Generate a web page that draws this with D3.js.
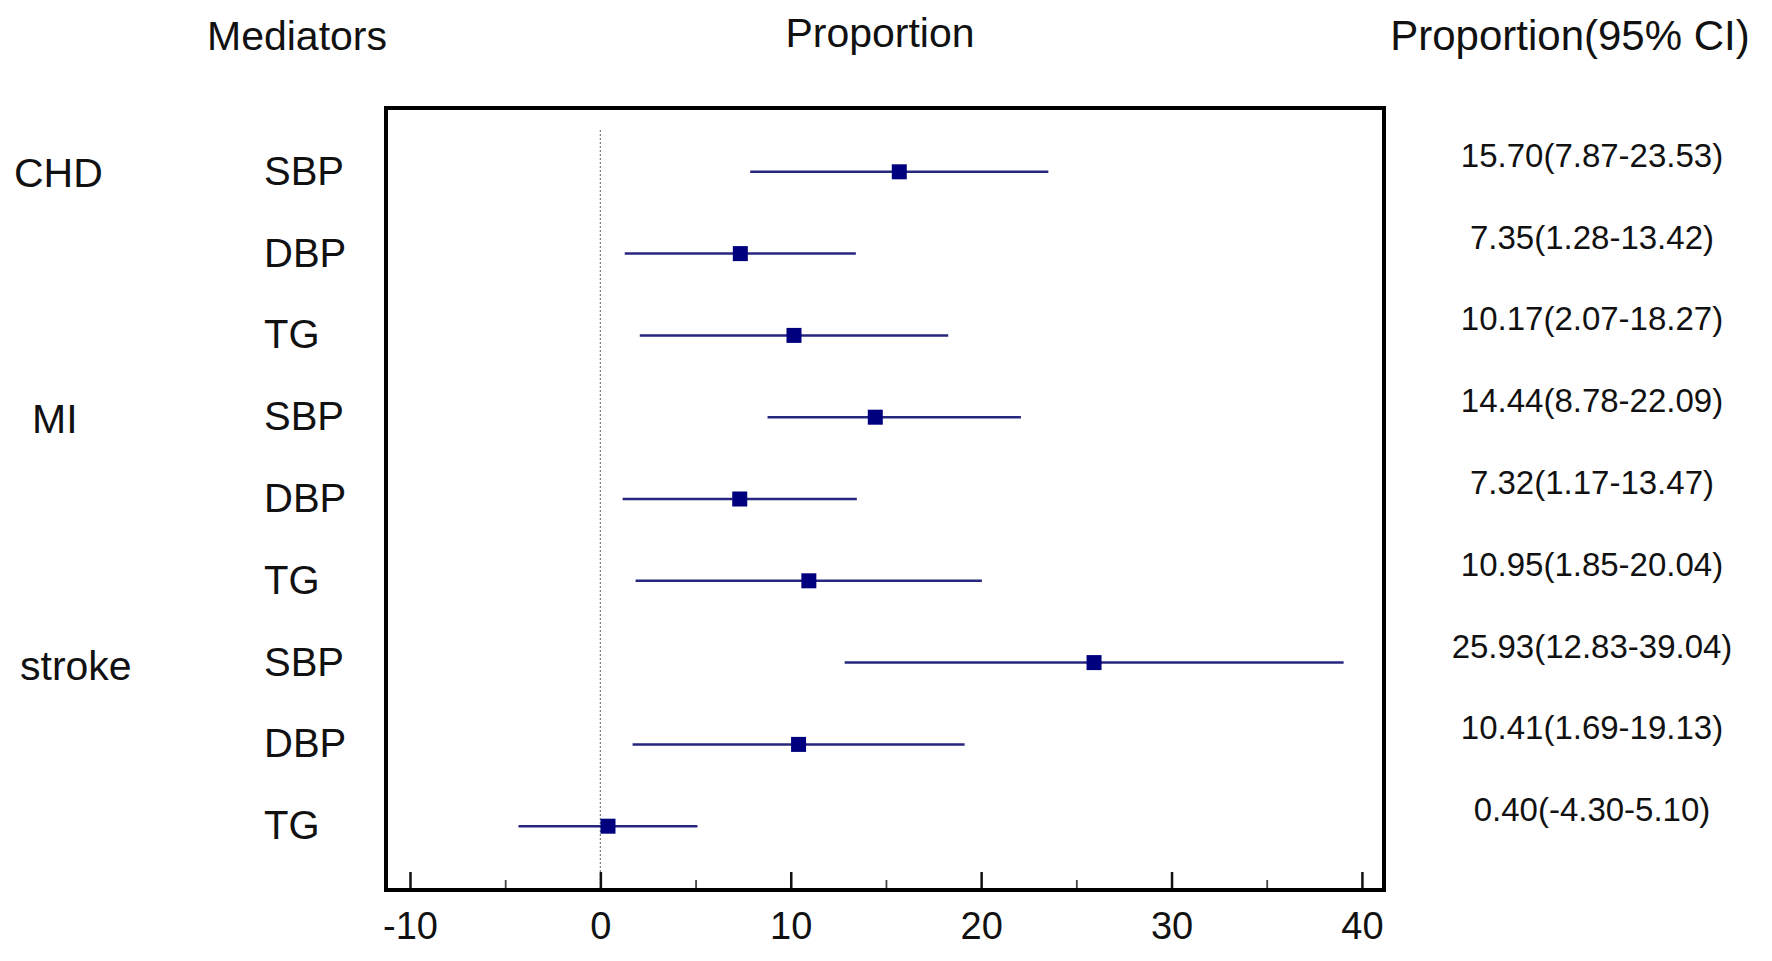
<!DOCTYPE html>
<html>
<head>
<meta charset="utf-8">
<script src="https://cdn.jsdelivr.net/npm/d3@7"></script>
<style>
  html, body { margin: 0; padding: 0; background: #fff; }
  svg text { font-family: "Liberation Sans", Arial, sans-serif; fill: #111; }
</style>
</head>
<body>
<svg id="chart" width="1772" height="961"></svg>
<script>
// ---- data ----
const outcomes = ["CHD", "MI", "stroke"];
const mediators = ["SBP", "DBP", "TG"];
const estimates = [15.70, 7.35, 10.17, 14.44, 7.32, 10.95, 25.93, 10.41, 0.40];
const lowerCI   = [7.87, 1.28, 2.07, 8.78, 1.17, 1.85, 12.83, 1.69, -4.30];
const upperCI   = [23.53, 13.42, 18.27, 22.09, 13.47, 20.04, 39.04, 19.13, 5.10];
const majorTicks = [-10, 0, 10, 20, 30, 40];
const minorTicks = [-5, 5, 15, 25, 35];
const headers = ["Mediators", "Proportion", "Proportion(95% CI)"];

// ---- build rows ----
const rows = [];
outcomes.forEach((o, i) => {
  mediators.forEach((m, j) => {
    const k = i * mediators.length + j;
    rows.push({ id: k, outcome: o, mediator: m, est: estimates[k], lo: lowerCI[k], hi: upperCI[k] });
  });
});

const loc = d3.formatLocale({ decimal: ".", thousands: ",", grouping: [3], currency: ["", ""], minus: "-" });
const f2 = loc.format(".2f");
const f0 = loc.format("d");

// ---- layout ----
const frame = { left: 386, right: 1384, top: 108, bottom: 890 };
const svg = d3.select("#chart");

const x = d3.scaleLinear().domain([-11.26, 41.16]).range([frame.left, frame.right]);
const y = d3.scalePoint().domain(rows.map(d => d.id)).range([frame.top, frame.bottom]).padding(0.78);

// headers
const headerX = [297, 880, 1570];
const headerY = [50, 47, 50];
const headerFs = [41, 41, 42];
svg.selectAll("text.header").data(headers).join("text")
  .attr("class", "header")
  .attr("x", (d, i) => headerX[i]).attr("y", (d, i) => headerY[i])
  .attr("text-anchor", "middle")
  .style("font-size", (d, i) => headerFs[i] + "px")
  .text(d => d);

// zero reference line
svg.append("line")
  .attr("x1", x(0)).attr("x2", x(0))
  .attr("y1", 130).attr("y2", frame.bottom)
  .attr("stroke", "#777").attr("stroke-width", 1.2)
  .attr("stroke-dasharray", "2,2");

// axis ticks (inward)
const axisMajor = d3.axisBottom(x).tickValues(majorTicks).tickSize(-18).tickPadding(22).tickFormat(f0);
const gMaj = svg.append("g").attr("transform", `translate(0,${frame.bottom})`).call(axisMajor);
gMaj.select(".domain").remove();
gMaj.selectAll(".tick line").attr("stroke", "#111").attr("stroke-width", 2.5);
gMaj.selectAll(".tick text").style("font-size", "38px").attr("fill", "#111")
  .attr("font-family", "Liberation Sans, Arial, sans-serif");

const axisMinor = d3.axisBottom(x).tickValues(minorTicks).tickSize(-10).tickFormat("");
const gMin = svg.append("g").attr("transform", `translate(0,${frame.bottom})`).call(axisMinor);
gMin.select(".domain").remove();
gMin.selectAll(".tick line").attr("stroke", "#444").attr("stroke-width", 1.8);

// frame
svg.append("rect")
  .attr("x", frame.left).attr("y", frame.top)
  .attr("width", frame.right - frame.left).attr("height", frame.bottom - frame.top)
  .attr("fill", "none").attr("stroke", "#000").attr("stroke-width", 4);

// CI lines
svg.selectAll("line.ci").data(rows).join("line")
  .attr("class", "ci")
  .attr("x1", d => x(d.lo)).attr("x2", d => x(d.hi))
  .attr("y1", d => y(d.id)).attr("y2", d => y(d.id))
  .attr("stroke", "#26267e").attr("stroke-width", 2.5);

// markers
const ms = 15;
svg.selectAll("rect.pt").data(rows).join("rect")
  .attr("class", "pt")
  .attr("x", d => x(d.est) - ms / 2).attr("y", d => y(d.id) - ms / 2)
  .attr("width", ms).attr("height", ms)
  .attr("fill", "#00007e");

// mediator labels
svg.selectAll("text.med").data(rows).join("text")
  .attr("class", "med")
  .attr("x", 264).attr("y", d => y(d.id) + 13)
  .style("font-size", "40px")
  .text(d => d.mediator);

// outcome labels (at first row of each group)
const outcomeX = [14, 32, 20];
const outcomeDy = [15, 16, 17];
svg.selectAll("text.out").data(outcomes).join("text")
  .attr("class", "out")
  .attr("x", (d, i) => outcomeX[i])
  .attr("y", (d, i) => y(i * mediators.length) + outcomeDy[i])
  .style("font-size", "41px")
  .text(d => d);

// values column
svg.selectAll("text.val").data(rows).join("text")
  .attr("class", "val")
  .attr("x", 1592).attr("y", d => y(d.id) - 5)
  .attr("text-anchor", "middle")
  .style("font-size", "33px")
  .text(d => `${f2(d.est)}(${f2(d.lo)}-${f2(d.hi)})`);
</script>
</body>
</html>
